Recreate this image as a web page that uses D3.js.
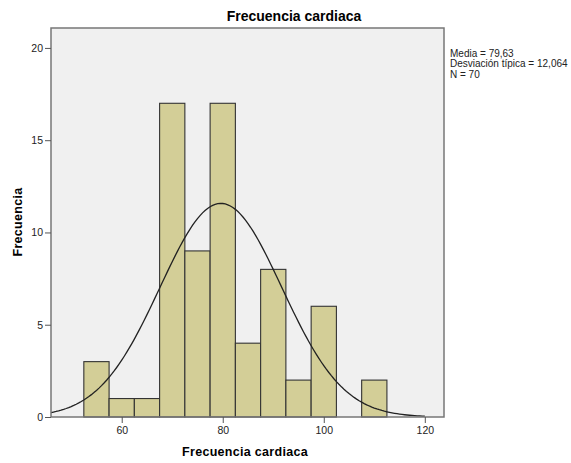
<!DOCTYPE html>
<meta charset="utf-8">
<style>
  body { margin: 0; background: #fff; font-family: Arial, 'Liberation Sans', sans-serif; }
  .axis text { font-size: 10.5px; fill: #222; }
  .axis path, .axis line { stroke: #555; }
</style>
<svg width="571" height="463"></svg>
<script src="https://d3js.org/d3.v7.min.js"></script>
<script>
// bins of 5 (lower edges) and counts
var binStarts = [52.5, 57.5, 62.5, 67.5, 72.5, 77.5, 82.5, 87.5, 92.5, 97.5, 102.5, 107.5],
    counts    = [3, 1, 1, 17, 9, 17, 4, 8, 2, 6, 0, 2],
    binWidth = 5,
    xTicks = [60, 80, 100, 120],
    yTicks = [0, 5, 10, 15, 20],
    media = 79.63, sd = 12.064, n = 70,
    stats = ["Media = 79,63", "Desviación típica = 12,064", "N = 70"];

var svg = d3.select("svg"),
    margin = { left: 51, top: 28, right: 127, bottom: 46 },
    width = 571 - margin.left - margin.right,
    height = 463 - margin.top - margin.bottom,
    g = svg.append("g").attr("transform", "translate(" + margin.left + "," + margin.top + ")");

var x = d3.scaleLinear().domain([46, 123.8]).range([0, width]);
var y = d3.scaleLinear().domain([0, 21.08]).range([height, 0]);

g.append("rect")
    .attr("width", width).attr("height", height)
    .attr("fill", "#f0f0f0");

g.selectAll(".bar")
    .data(counts.map(function (c, i) { return { x0: binStarts[i], c: c }; }).filter(function (d) { return d.c > 0; }))
    .enter().append("rect")
    .attr("class", "bar")
    .attr("x", function (d) { return x(d.x0); })
    .attr("width", function (d) { return x(d.x0 + binWidth) - x(d.x0); })
    .attr("y", function (d) { return y(d.c); })
    .attr("height", function (d) { return y(0) - y(d.c); })
    .attr("fill", "#d3ce97")
    .attr("stroke", "#333")
    .attr("stroke-width", 1.1);

// fitted normal curve from the displayed mean and sd
var curvePts = d3.range(46, 120.01, 0.5).map(function (v) {
    var z = (v - media) / sd;
    return [v, n * binWidth * Math.exp(-0.5 * z * z) / (sd * Math.sqrt(2 * Math.PI))];
});
g.append("path")
    .datum(curvePts)
    .attr("fill", "none")
    .attr("stroke", "#222")
    .attr("stroke-width", 1.3)
    .attr("d", d3.line().x(function (d) { return x(d[0]); }).y(function (d) { return y(d[1]); }));

// frame
g.append("rect")
    .attr("width", width).attr("height", height)
    .attr("fill", "none")
    .attr("stroke", "#777")
    .attr("stroke-width", 1.5);

g.append("g")
    .attr("class", "axis")
    .attr("transform", "translate(0," + height + ")")
    .call(d3.axisBottom(x).tickValues(xTicks).tickSize(6).tickSizeOuter(0).tickPadding(4))
    .call(function (s) { s.select(".domain").remove(); });

g.append("g")
    .attr("class", "axis")
    .call(d3.axisLeft(y).tickValues(yTicks).tickSize(6).tickSizeOuter(0).tickPadding(2))
    .call(function (s) { s.select(".domain").remove(); });

svg.append("text")
    .attr("x", 294).attr("y", 21)
    .attr("text-anchor", "middle")
    .style("font-size", "14px").style("font-weight", "bold")
    .text("Frecuencia cardiaca");

svg.append("text")
    .attr("x", 245).attr("y", 456)
    .attr("text-anchor", "middle")
    .style("font-size", "12.5px").style("font-weight", "bold")
    .style("letter-spacing", "0.3px")
    .text("Frecuencia cardiaca");

svg.append("text")
    .attr("transform", "translate(22,222) rotate(-90)")
    .attr("text-anchor", "middle")
    .style("font-size", "12.5px").style("font-weight", "bold")
    .style("letter-spacing", "0.3px")
    .text("Frecuencia");

svg.append("g").selectAll("text")
    .data(stats)
    .enter().append("text")
    .attr("x", 450)
    .attr("y", function (d, i) { return 57 + i * 10.3; })
    .style("font-size", "10px")
    .style("fill", "#222")
    .text(function (d) { return d; });
</script>
